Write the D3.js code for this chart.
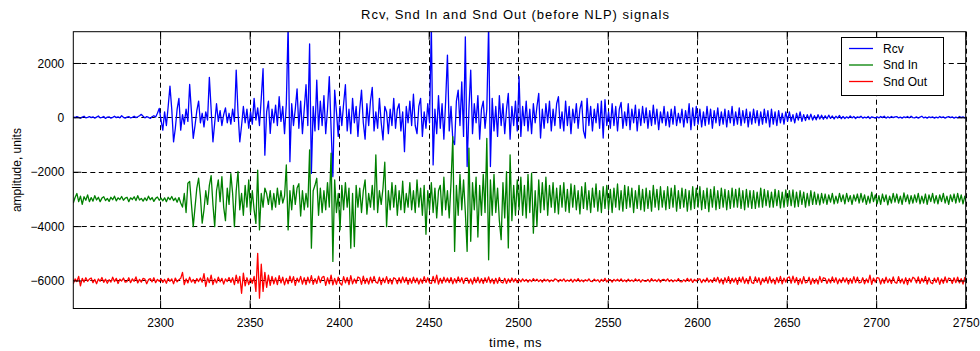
<!DOCTYPE html>
<html>
<head>
<meta charset="utf-8">
<script src="https://cdn.jsdelivr.net/npm/d3@7"></script>
<style>
  html, body { margin: 0; padding: 0; background: #fff; }
  svg { display: block; font-family: "Liberation Sans", Arial, sans-serif; }
</style>
</head>
<body>
<svg id="chart" width="980" height="351"></svg>
<script>
// Sampling of the three signals: one sample per millisecond starting at tStart.
const tStart = 2251.5;
const dt = 1;

// Rcv signal, amplitude in units (plotted around 0)
const rcv = [
  20,-10,30,0,-30,10,40,-20,0,30,
  -10,20,-30,10,50,-20,0,30,-40,10,
  20,-30,0,40,-10,20,-20,60,0,-30,
  10,30,-20,0,40,-10,20,60,110,40,
  -20,30,0,-40,20,60,10,150,330,-100,
  -470,200,-300,400,1150,300,-900,-400,300,700,
  -470,100,-250,300,-150,1210,200,-770,-300,250,
  600,-200,150,-350,200,-100,1470,300,-900,-200,
  500,-150,250,-300,100,350,-200,150,-250,300,
  -150,1740,200,-900,-300,400,-200,300,-400,200,
  -250,700,-100,350,-300,700,1790,-1390,200,600,
  -590,300,-200,450,-300,760,-150,400,-600,500,
  3400,-1630,500,-300,300,1050,-400,600,-600,300,
  1200,-300,2700,-2060,400,-500,1370,-450,600,-300,
  800,-600,300,1500,-400,-2180,1000,200,-700,400,
  -300,500,1200,-500,300,-600,700,-200,400,-700,
  300,1000,-200,-800,500,-300,600,1100,-500,200,
  -400,700,-200,-830,400,200,-600,300,-300,700,
  -400,300,500,-500,200,-1260,400,-200,600,-300,
  850,-300,-600,400,700,-700,200,-400,500,-200,
  3400,-1750,300,-600,800,-400,500,-800,600,2290,
  -500,400,-830,-1000,600,1000,-300,1300,-700,2960,
  -1810,300,1740,-600,500,-200,800,-800,300,600,
  -400,300,3400,-1810,700,-500,400,-700,800,-300,
  500,-600,300,880,-800,400,-300,600,-500,1500,
  -700,400,-300,600,-500,300,-600,500,-200,400,
  880,-760,300,-400,500,-200,600,-500,300,-300,
  500,760,-400,200,-500,600,-300,400,-600,300,
  -200,500,-400,300,600,-500,-760,700,-300,400,
  -500,300,-200,500,-400,600,-760,650,-300,200,
  -400,500,-300,400,-500,300,550,-400,200,-300,
  500,-450,300,-200,450,-500,300,-300,400,-200,
  350,-400,250,-300,450,-250,300,-450,200,-200,
  400,-300,200,-350,300,-250,400,-300,150,-200,
  300,-350,250,-200,500,-450,350,-300,400,-250,
  300,-350,200,-300,400,-250,300,-400,250,-200,
  350,-300,200,-250,300,-350,250,-200,400,-300,
  200,-250,350,-300,250,-200,300,-350,200,-250,
  300,-200,250,-300,200,-250,300,-200,250,-350,
  300,-250,200,-300,250,-200,150,-250,200,-150,
  200,-150,100,-200,150,-100,200,-150,100,-120,
  100,-80,120,-100,60,-90,100,-60,80,-70,
  60,-50,80,-40,50,-60,40,-30,70,-50,
  30,-40,20,-30,50,-20,30,-40,20,-10,
  40,-30,10,-20,30,-40,20,0,-30,20,
  -20,30,-10,40,-30,20,-20,30,-10,20,
  30,-20,10,-30,20,-10,30,-20,40,-10,
  -20,20,-30,10,40,-20,10,-30,20,-10,
  20,-30,10,-20,30,-10,20,-30,10,30,
  -10,20,-30,10,-20,30,-10,20,-20,10
];

// Snd In signal, amplitude in units relative to its trace offset
const sndIn = [
  -150,50,200,-100,100,-200,80,-50,150,-100,
  50,-80,120,-40,60,-100,30,80,-60,20,
  -90,60,-30,100,-70,40,-20,90,-50,30,
  60,-100,40,-20,80,-60,120,-40,20,-80,
  40,-60,100,-30,50,-90,20,70,-50,30,
  -70,40,-100,60,-30,90,-60,30,-120,50,
  -150,-300,200,-500,580,640,-200,-1020,-300,400,
  760,100,-890,-400,300,-200,500,860,-200,-1020,
  300,700,-100,820,-300,-800,400,-200,930,200,
  -1020,300,1010,-400,200,-600,500,-300,700,-500,
  300,-400,-900,1060,-1140,200,-300,400,200,-200,
  300,-400,200,-300,400,-200,300,-150,100,1250,
  -1140,300,-400,500,-200,400,560,-630,300,-400,
  200,-300,1800,-1810,300,500,760,-600,400,-500,
  300,-400,600,-300,1680,-2300,700,-500,200,-1140,
  500,-400,600,-300,400,-1810,200,-1750,500,-300,
  400,-500,300,700,-560,200,-300,500,-400,1620,
  -500,300,-200,400,1350,-1020,300,-400,600,-300,
  500,-600,300,-400,650,-500,200,-300,600,-400,
  300,-500,700,-300,400,-600,500,-1300,300,-400,
  600,-500,400,-700,300,500,-600,800,-400,300,
  -700,600,2290,-1930,500,-600,900,-400,700,-500,
  -1930,1870,-1560,600,-400,800,-1400,500,-600,900,
  -500,2230,-2240,700,-600,900,-500,400,-800,-1500,
  600,-700,1000,-1800,1620,-800,500,-600,700,-400,
  800,-600,500,-700,900,-500,950,-1260,300,-1000,
  700,-500,600,-400,800,-600,500,-300,600,-500,
  400,-550,500,-300,600,-450,350,-500,550,-300,
  500,-400,300,-550,450,-350,600,-400,300,-500,
  400,-300,550,-450,300,-500,450,-350,500,-400,
  350,-500,400,-300,550,-400,300,-450,500,-350,
  450,-300,400,-500,300,-350,500,-400,350,-450,
  400,-350,300,-450,500,-300,350,-400,450,-300,
  300,-400,450,-350,400,-300,500,-450,300,-350,
  400,-300,350,-450,300,-400,450,-350,400,-300,
  450,-400,300,-350,400,-470,350,-300,450,-400,
  300,-350,400,-300,350,-400,300,-350,400,-300,
  350,-300,400,-350,300,-400,350,-300,300,-350,
  300,-350,250,-300,400,-300,350,-250,300,-300,
  250,-300,350,-250,300,-330,250,-300,330,-250,
  300,-250,330,-300,250,-280,300,-200,250,-300,
  200,-250,300,-200,250,-200,180,-220,200,-150,
  180,-200,150,-120,200,-180,100,-150,200,-100,
  150,-180,200,-100,120,-200,150,-80,180,-150,
  200,-120,150,-200,100,-150,250,-100,150,-180,
  120,-200,180,-100,150,-220,100,-150,200,-120,
  180,-150,100,-200,220,-100,150,-180,120,-150,
  150,-120,200,-180,100,-150,180,-200,150,-100,
  200,-150,120,-180,150,-100,200,-150,100,-200,
  150,-100,180,-150,200,-120,150,-180,100,-150
];

// Snd Out (before NLP) signal, amplitude in units relative to its trace offset
const sndOut = [
  -120,60,-40,150,-200,80,-60,100,-30,50,
  90,-80,40,-120,60,-30,110,-70,50,-100,
  30,-60,120,-40,80,-110,50,-20,90,-60,
  -40,100,-80,60,-30,130,-90,40,-60,80,
  50,-120,30,70,-50,100,-80,40,-30,60,
  -70,40,-100,80,-30,60,-120,90,-50,30,
  80,300,-150,60,-90,120,-60,40,-100,70,
  -40,90,-60,250,-220,100,-80,200,-150,60,
  -90,120,-50,80,-130,60,-40,110,-70,100,
  -150,200,-100,150,-470,270,-200,100,-150,80,
  -100,150,-400,1000,-650,600,-400,300,-250,200,
  -180,150,-120,100,-150,180,-90,120,-160,80,
  -120,160,-80,140,-180,90,-60,150,-130,100,
  -150,120,-90,180,-140,70,-110,160,-80,120,
  150,-180,100,-120,200,-160,80,-140,120,-100,
  -170,140,-90,110,-150,180,-120,60,-100,130,
  90,-140,160,-110,80,-130,120,-90,150,-60,
  -100,120,-150,90,-80,140,-110,70,-130,100,
  60,-120,100,-90,130,-70,110,-140,80,-100,
  120,-80,90,-130,60,-100,140,-70,100,-90,
  -110,150,-90,200,-130,80,-100,120,-60,90,
  -80,110,-120,70,-90,130,-60,100,-110,80,
  90,-100,60,-130,110,-80,120,-90,70,-110,
  100,-70,130,-90,60,-120,80,-100,110,-60,
  -90,80,-110,60,-70,90,-50,70,-80,40,
  -50,60,-30,40,-60,30,-40,70,-20,50,
  -40,30,-60,50,-20,40,-50,20,-30,60,
  30,-50,40,-20,60,-40,20,-30,50,-60,
  40,-30,70,-40,20,-50,30,-20,60,-30,
  -40,50,-20,30,-60,40,-30,80,-50,20,
  30,-60,40,-20,50,-30,60,-40,20,-50,
  50,-30,20,-40,60,-20,40,-60,30,-20,
  -30,40,-50,70,-20,30,-40,50,-60,30,
  40,-20,60,-40,30,-50,20,-30,70,-40,
  -50,30,-40,80,-30,60,-70,40,-20,50,
  60,-80,40,-50,90,-60,30,-70,100,-40,
  120,-90,60,-130,100,-70,140,-110,80,-60,
  90,-140,110,-60,130,-100,70,-120,150,-80,
  -110,130,-70,100,-150,80,-60,120,-100,140,
  -90,60,-130,110,-80,150,-120,90,-60,100,
  130,-100,160,-80,110,-150,70,-120,140,-90,
  -60,120,-140,80,-100,60,-130,150,-70,100,
  80,-110,60,-90,130,-70,100,-120,60,-80,
  110,-60,90,-130,70,-100,140,-80,120,-90,
  -70,100,-120,60,-80,200,-140,90,-60,110,
  90,-130,70,-100,120,-80,60,-110,130,-70,
  -100,140,-90,60,-120,100,-150,80,-60,120,
  70,-90,130,-110,80,-60,150,-130,100,-80,
  -120,90,-70,110,-140,60,-100,130,-80,90,
  60,-110,100,-80,120,-90,70,-130,110,-60
];

// Series names, trace offsets and colours
const seriesNames = ["Rcv", "Snd In", "Snd Out"];
const seriesOffsets = [0, -3000, -6000];
const seriesColors = ["#0000ff", "#008000", "#ff0000"];
const seriesValues = [rcv, sndIn, sndOut];

// Axis ticks and text
const xTicks = [2300, 2350, 2400, 2450, 2500, 2550, 2600, 2650, 2700, 2750];
const yTicks = [2000, 0, -2000, -4000, -6000];
const xDomain = [2251.5, 2750];
const yDomain = [-7030, 3150];
const titleText = "Rcv, Snd In and Snd Out (before NLP) signals";
const xLabelText = "time, ms";
const yLabelText = "amplitude, units";

const svg = d3.select("#chart");
const plot = { left: 73.3, right: 965.7, top: 31.7, bottom: 308.5 };

const x = d3.scaleLinear().domain(xDomain).range([plot.left, plot.right]);
const y = d3.scaleLinear().domain(yDomain).range([plot.bottom, plot.top]);

svg.append("rect").attr("width", 980).attr("height", 351).attr("fill", "#fff");

// clip region for the traces
svg.append("defs").append("clipPath").attr("id", "plotClip")
  .append("rect")
  .attr("x", plot.left).attr("y", plot.top)
  .attr("width", plot.right - plot.left).attr("height", plot.bottom - plot.top);

// dashed grid
const grid = svg.append("g").attr("class", "grid")
  .attr("stroke", "#000").attr("stroke-width", 1).attr("stroke-dasharray", "5,3.5");
grid.selectAll("line.v").data(xTicks).join("line").attr("class", "v")
  .attr("x1", d => Math.round(x(d)) + 0.5).attr("x2", d => Math.round(x(d)) + 0.5)
  .attr("y1", plot.top).attr("y2", plot.bottom);
grid.selectAll("line.h").data(yTicks).join("line").attr("class", "h")
  .attr("y1", d => Math.round(y(d)) + 0.5).attr("y2", d => Math.round(y(d)) + 0.5)
  .attr("x1", plot.left).attr("x2", plot.right);

// signal traces
const line = d3.line()
  .x((d, i) => x(tStart + i * dt))
  .y(d => y(d));

const traces = svg.append("g").attr("clip-path", "url(#plotClip)");
seriesValues.forEach((vals, k) => {
  const shifted = vals.map(v => v + seriesOffsets[k]);
  traces.append("path")
    .datum(shifted)
    .attr("fill", "none")
    .attr("stroke", seriesColors[k])
    .attr("stroke-width", 1.3)
    .attr("stroke-linejoin", "round")
    .attr("d", line);
});

// axes with inward ticks on all four sides
const tickLen = 8;
const axisFont = g => g.selectAll("text")
  .attr("font-family", '"Liberation Sans", Arial, sans-serif')
  .attr("font-size", 12).attr("fill", "#000");

const gx = svg.append("g").attr("transform", `translate(0,${plot.bottom})`)
  .call(d3.axisBottom(x).tickValues(xTicks).tickSizeInner(-tickLen).tickSizeOuter(0).tickPadding(10).tickFormat(d3.format("d")));
const gxt = svg.append("g").attr("transform", `translate(0,${plot.top})`)
  .call(d3.axisTop(x).tickValues(xTicks).tickSizeInner(-tickLen).tickSizeOuter(0).tickFormat(""));
const gy = svg.append("g").attr("transform", `translate(${plot.left},0)`)
  .call(d3.axisLeft(y).tickValues(yTicks).tickSizeInner(-tickLen).tickSizeOuter(0).tickPadding(9).tickFormat(d3.format("d")));
const gyr = svg.append("g").attr("transform", `translate(${plot.right},0)`)
  .call(d3.axisRight(y).tickValues(yTicks).tickSizeInner(-tickLen).tickSizeOuter(0).tickFormat(""));

[gx, gxt, gy, gyr].forEach(g => {
  g.select(".domain").remove();
  g.selectAll(".tick line").attr("stroke", "#000");
  g.attr("font-size", 12);
  axisFont(g);
});
gy.selectAll(".tick text").attr("dy", "0.35em");

// axes box
svg.append("rect")
  .attr("x", plot.left).attr("y", plot.top)
  .attr("width", plot.right - plot.left).attr("height", plot.bottom - plot.top)
  .attr("fill", "none").attr("stroke", "#000").attr("stroke-width", 1);

// title and axis labels
svg.append("text")
  .attr("x", (plot.left + plot.right) / 2 - 4).attr("y", 19)
  .attr("text-anchor", "middle").attr("font-size", 13).attr("letter-spacing", 1)
  .attr("fill", "#000")
  .text(titleText);
svg.append("text")
  .attr("x", (plot.left + plot.right) / 2 - 4).attr("y", 347)
  .attr("text-anchor", "middle").attr("font-size", 13).attr("letter-spacing", 0.5)
  .attr("fill", "#000")
  .text(xLabelText);
svg.append("text")
  .attr("transform", `translate(21,${(plot.top + plot.bottom) / 2}) rotate(-90)`)
  .attr("text-anchor", "middle").attr("font-size", 12).attr("fill", "#000")
  .text(yLabelText);

// legend
const legend = svg.append("g");
legend.append("rect")
  .attr("x", 841.5).attr("y", 37.5).attr("width", 102).attr("height", 58)
  .attr("fill", "#fff").attr("stroke", "#000").attr("stroke-width", 1);
const rowY = [48.5, 65, 81.5];
seriesNames.forEach((name, k) => {
  legend.append("line")
    .attr("x1", 849).attr("x2", 873).attr("y1", rowY[k]).attr("y2", rowY[k])
    .attr("stroke", seriesColors[k]).attr("stroke-width", 1.3);
  legend.append("text")
    .attr("x", 883).attr("y", rowY[k]).attr("dy", "0.35em")
    .attr("font-size", 12).attr("fill", "#000")
    .text(name);
});
</script>
</body>
</html>
